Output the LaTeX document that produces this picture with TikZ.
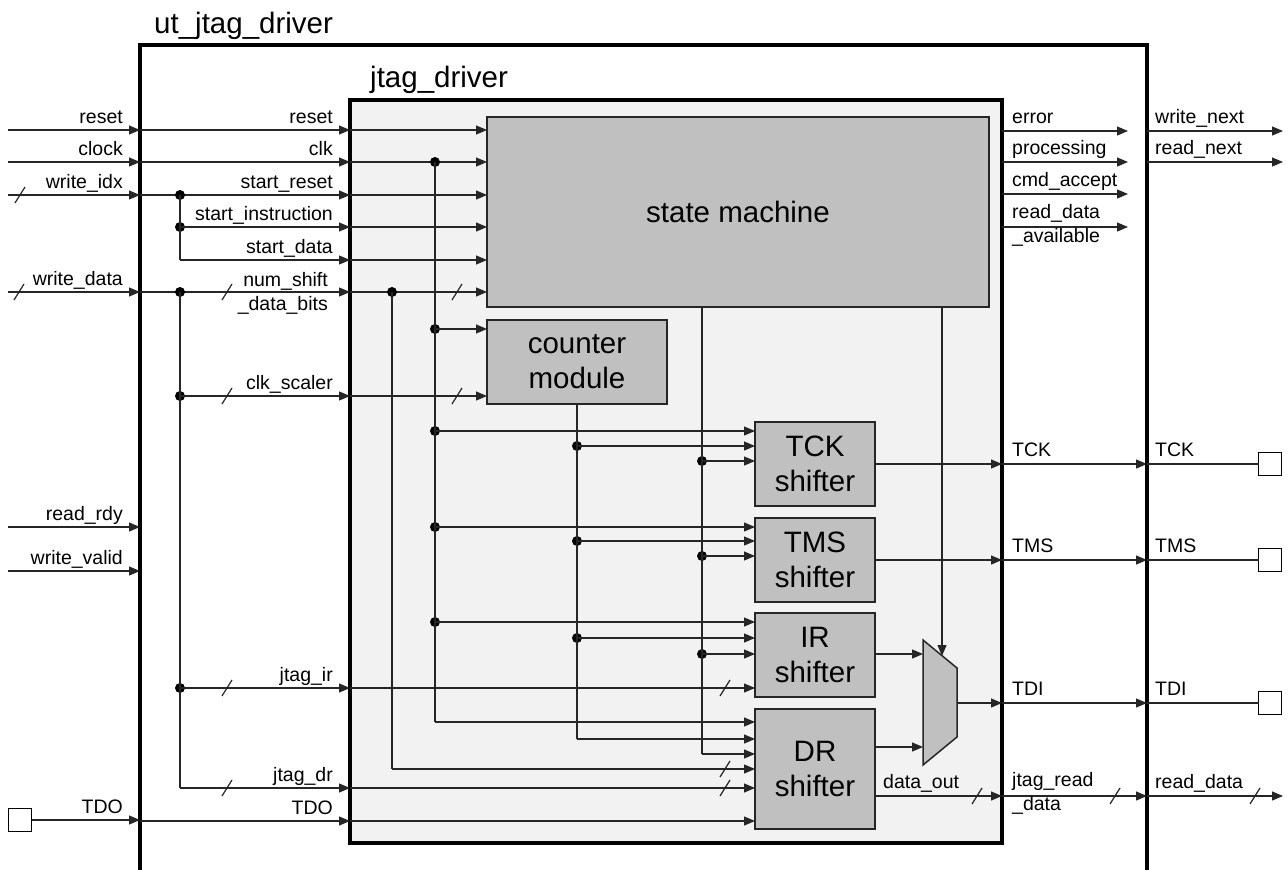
\documentclass[tikz,border=0pt]{standalone}
\usepackage{fontspec}
\setmainfont{Liberation Sans}
\usetikzlibrary{arrows.meta,positioning}

\definecolor{drvfill}{HTML}{F2F2F2}
\definecolor{blkfill}{HTML}{C0C0C0}

\tikzset{
  frame/.style={draw, line width=4.3pt, outer sep=0pt, inner sep=0pt},
  block/.style={draw=black!85, line width=1.5pt, fill=blkfill, outer sep=0pt, inner sep=0pt,
    align=center, font=\fontsize{29.5}{35}\selectfont},
  muxbox/.style={draw=black!85, line width=1.5pt, fill=blkfill},
  ttl/.style={font=\fontsize{29.5}{35}\selectfont, inner sep=0pt},
  lbl/.style={font=\fontsize{19.5}{24}\selectfont, inner sep=0pt},
  wire/.style={line width=1.2pt, draw=black!85},
  sig/.style={wire, -{Triangle[length=11pt,width=9pt]}},
  dot/.style={circle, fill=black, inner sep=0pt, minimum size=10pt},
  port/.style={draw, line width=1.5pt, fill=white, minimum size=23pt, inner sep=0pt, outer sep=0pt},
}
% bus width mark
\newcommand{\busmark}[2]{\draw[wire] (#1-5,#2+8) -- (#1+5,#2-8);}

\begin{document}
\begin{tikzpicture}[x=1pt,y=-1pt]
\useasboundingbox (0,0) rectangle (1288,870);

% frames
\node[frame, minimum width=1007, minimum height=900, anchor=north west] (ut) at (140,45) {};
\node[frame, fill=drvfill, minimum width=652, minimum height=743, anchor=north west] (drv) at (350,100) {};
\node[ttl, anchor=base west] (ut-name) at (154,33) {ut\_jtag\_driver};
\node[ttl, anchor=base west] (drv-name) at (370,87) {jtag\_driver};

% blocks
\node[block, minimum width=502, minimum height=190] (sm) at (738,212) {state machine};
\node[block, minimum width=180, minimum height=84] (cnt) at (577,362) {counter\\module};
\node[block, minimum width=120, minimum height=84] (tck) at (815,464) {TCK\\shifter};
\node[block, minimum width=120, minimum height=84] (tms) at (815,560) {TMS\\shifter};
\node[block, minimum width=120, minimum height=84] (ir) at (815,655) {IR\\shifter};
\node[block, minimum width=120, minimum height=120] (dr) at (815,769) {DR\\shifter};
\draw[muxbox] (923,640) -- (957,668) -- (957,737) -- (923,765) -- cycle;
\coordinate (mux-a) at (923,654);
\coordinate (mux-b) at (923,747);
\coordinate (mux-o) at (957,703);
\coordinate (mux-s) at (942,656);

% ports
\node[port] (p-tdo) at (20,820) {};
\node[port] (p-tck) at (1270,464) {};
\node[port] (p-tms) at (1270,560) {};
\node[port] (p-tdi) at (1270,703) {};

% inputs of ut_jtag_driver
\foreach \y/\txt in {130/reset,162/clock,195/write\_idx,292/write\_data,527/read\_rdy,571/write\_valid}{
  \coordinate (i\y) at (8,\y);
  \draw[sig] (i\y) -- (i\y -| ut.west);
  \node[lbl, anchor=base east] (li\y) at (123,\y-7) {\txt};
}
\draw[sig] (p-tdo.east) -- (p-tdo.east -| ut.west);
\node[lbl, anchor=base east] (li821) at (123,813) {TDO};
\busmark{20}{195}
\busmark{19}{292}

% inputs of jtag_driver
\foreach \y in {130,162,195,227,260,292,396,688,788,821}
  \coordinate (w\y) at (350,\y);
\foreach \y in {130,162,195,292,821}
  \draw[sig] (w\y -| ut.west) -- (w\y);

\node[dot] (j-wi1) at (180,195) {};
\node[dot] (j-wi2) at (180,227) {};
\coordinate (k-wi) at (180,260);
\draw[wire] (j-wi1.center) -- (k-wi);
\draw[sig] (j-wi2.center) -- (w227);
\draw[sig] (k-wi) -- (w260);

\node[dot] (j-wd1) at (180,292) {};
\node[dot] (j-wd2) at (180,396) {};
\node[dot] (j-wd3) at (180,688) {};
\coordinate (k-wd) at (180,788);
\draw[wire] (j-wd1.center) -- (k-wd);
\draw[sig] (j-wd2.center) -- (w396);
\draw[sig] (j-wd3.center) -- (w688);
\draw[sig] (k-wd) -- (w788);
\busmark{227}{292}
\busmark{227}{396}
\busmark{227}{688}
\busmark{227}{788}

\foreach \y/\txt in {130/reset,162/clk,195/start\_reset,227/start\_instruction,260/start\_data,
                     396/clk\_scaler,688/jtag\_ir,788/jtag\_dr,821/TDO}
  \node[lbl, anchor=base east] (lw\y) at (333,\y-7) {\txt};
\node[lbl, anchor=east, align=right] (lw292) at (328,293) {num\_shift\\\_data\_bits};

% state machine and counter inputs
\foreach \y in {130,162,195,227,260,292}
  \draw[sig] (w\y) -- (w\y -| sm.west);
\busmark{457}{292}
\draw[sig] (w396) -- (w396 -| cnt.west);
\busmark{457}{396}

% clk fan-out
\node[dot] (j-ck0) at (435,162) {};
\node[dot] (j-ck1) at (435,329) {};
\node[dot] (j-ck2) at (435,431) {};
\node[dot] (j-ck3) at (435,527) {};
\node[dot] (j-ck4) at (435,622) {};
\coordinate (k-ck) at (435,722);
\draw[wire] (j-ck0.center) -- (k-ck);
\draw[sig] (j-ck1.center) -- (j-ck1 -| cnt.west);
\draw[sig] (j-ck2.center) -- (j-ck2 -| tck.west);
\draw[sig] (j-ck3.center) -- (j-ck3 -| tms.west);
\draw[sig] (j-ck4.center) -- (j-ck4 -| ir.west);
\draw[sig] (k-ck) -- (k-ck -| dr.west);

% counter fan-out
\node[dot] (j-cn1) at (577,446) {};
\node[dot] (j-cn2) at (577,541) {};
\node[dot] (j-cn3) at (577,638) {};
\coordinate (k-cn) at (577,739);
\draw[wire] (cnt.south) -- (k-cn);
\draw[sig] (j-cn1.center) -- (j-cn1 -| tck.west);
\draw[sig] (j-cn2.center) -- (j-cn2 -| tms.west);
\draw[sig] (j-cn3.center) -- (j-cn3 -| ir.west);
\draw[sig] (k-cn) -- (k-cn -| dr.west);

% state machine fan-out
\node[dot] (j-sm1) at (702,461) {};
\node[dot] (j-sm2) at (702,556) {};
\node[dot] (j-sm3) at (702,654) {};
\coordinate (k-sm) at (702,754);
\draw[wire] (j-sm1 |- sm.south) -- (k-sm);
\draw[sig] (j-sm1.center) -- (j-sm1 -| tck.west);
\draw[sig] (j-sm2.center) -- (j-sm2 -| tms.west);
\draw[sig] (j-sm3.center) -- (j-sm3 -| ir.west);
\draw[sig] (k-sm) -- (k-sm -| dr.west);
\draw[sig] (mux-s |- sm.south) -- (mux-s);

% num_shift_data_bits to DR
\node[dot] (j-ns) at (392,292) {};
\coordinate (k-ns) at (392,769);
\draw[wire] (j-ns.center) -- (k-ns);
\draw[sig] (k-ns) -- (k-ns -| dr.west);
\busmark{725}{769}

% direct shifter inputs
\draw[sig] (w688) -- (w688 -| ir.west);
\busmark{725}{688}
\draw[sig] (w788) -- (w788 -| dr.west);
\busmark{725}{788}
\draw[sig] (w821) -- (w821 -| dr.west);

% shifter outputs
\draw[sig] (ir.east |- mux-a) -- (mux-a);
\draw[sig] (dr.east |- mux-b) -- (mux-b);
\draw[sig] (tck.east) -- (tck.east -| drv.east);
\draw[sig] (tms.east) -- (tms.east -| drv.east);
\draw[sig] (mux-o) -- (mux-o -| drv.east);
\coordinate (q796) at (1002,796);
\draw[sig] (q796 -| dr.east) -- (q796);
\busmark{977}{796}
\node[lbl, anchor=base west] (l-dout) at (883,788) {data\_out};

% outputs of jtag_driver
\foreach \y/\txt in {131/error,162/processing,194/cmd\_accept}{
  \coordinate (q\y) at (1002,\y);
  \draw[sig] (q\y) -- ++(126,0);
  \node[lbl, anchor=base west] (lq\y) at (1012,\y-8) {\txt};
}
\coordinate (q227) at (1002,227);
\draw[sig] (q227) -- ++(126,0);
\node[lbl, anchor=west, align=left] (lq227) at (1012,225) {read\_data\\\_available};

\draw[sig] (tck.east -| drv.east) -- (tck.east -| ut.east);
\draw[sig] (tms.east -| drv.east) -- (tms.east -| ut.east);
\draw[sig] (mux-o -| drv.east) -- (mux-o -| ut.east);
\draw[sig] (q796) -- (q796 -| ut.east);
\busmark{1115}{796}
\node[lbl, anchor=base west] (lq464) at (1012,456) {TCK};
\node[lbl, anchor=base west] (lq560) at (1012,552) {TMS};
\node[lbl, anchor=base west] (lq703) at (1012,695) {TDI};
\node[lbl, anchor=west, align=left] (lq796) at (1012,793) {jtag\_read\\\_data};

% outputs of ut_jtag_driver
\draw[sig] (q131 -| ut.east) -- ++(136,0);
\draw[sig] (q162 -| ut.east) -- ++(136,0);
\draw[wire] (tck.east -| ut.east) -- (p-tck.west);
\draw[wire] (tms.east -| ut.east) -- (p-tms.west);
\draw[wire] (mux-o -| ut.east) -- (p-tdi.west);
\draw[sig] (q796 -| ut.east) -- ++(136,0);
\busmark{1255}{796}
\node[lbl, anchor=base west] (lo131) at (1155,123) {write\_next};
\node[lbl, anchor=base west] (lo162) at (1155,154) {read\_next};
\node[lbl, anchor=base west] (lo464) at (1155,456) {TCK};
\node[lbl, anchor=base west] (lo560) at (1155,552) {TMS};
\node[lbl, anchor=base west] (lo703) at (1155,695) {TDI};
\node[lbl, anchor=base west] (lo796) at (1155,788) {read\_data};
\end{tikzpicture}
\end{document}
